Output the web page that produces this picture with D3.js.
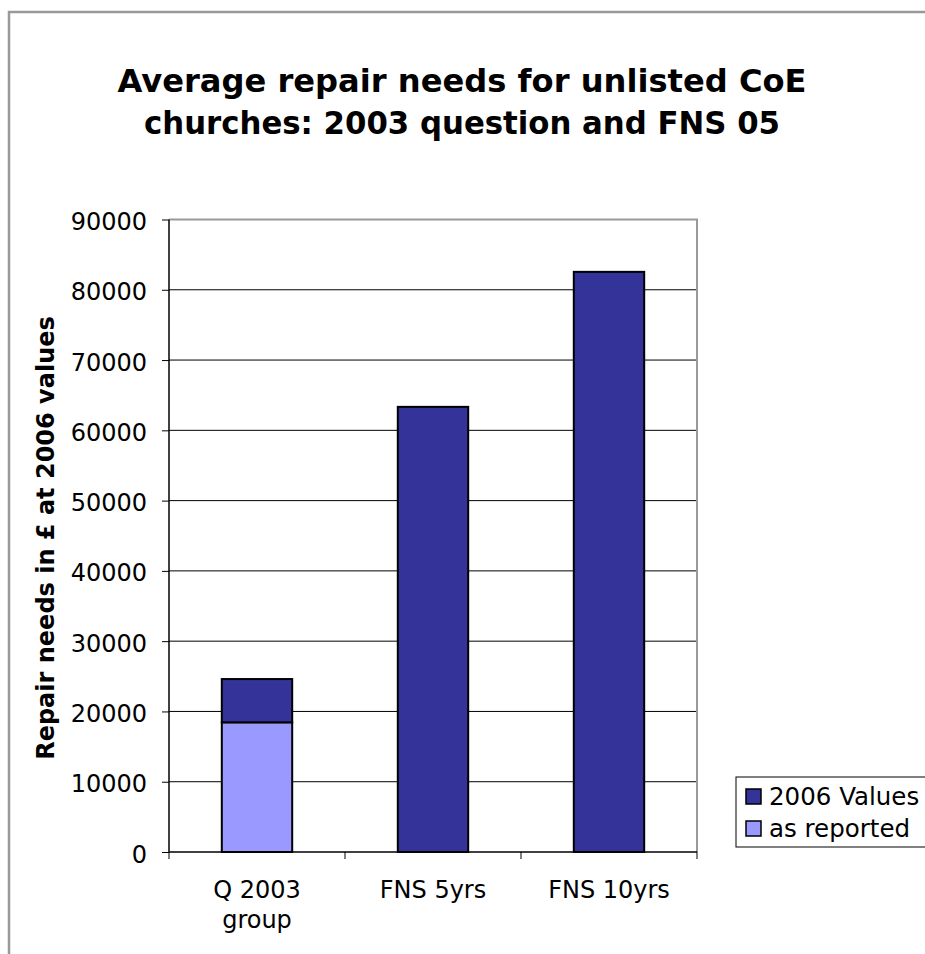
<!DOCTYPE html>
<html><head><meta charset="utf-8">
<script src="https://cdn.jsdelivr.net/npm/d3@7"></script>
<style>body{margin:0;background:#fff}svg{display:block}</style>
</head><body>
<script>
const categories = [["Q 2003","group"],["FNS 5yrs"],["FNS 10yrs"]];
const catKeys = ["Q 2003 group","FNS 5yrs","FNS 10yrs"];
const seriesNames = ["2006 Values","as reported"];
const asReported = [18450, 0, 0];
const values2006 = [24610, 63340, 82550];
const yTicks = [0,10000,20000,30000,40000,50000,60000,70000,80000,90000];
const colors = {"2006 Values":"#333399","as reported":"#9999FF"};

(function(){
const W=925,H=954;
const svg=d3.select("body").append("svg").attr("width",W).attr("height",H);
const font="DejaVu Sans, Verdana, sans-serif";

// outer border
svg.append("rect").attr("x",9).attr("y",12).attr("width",W+20).attr("height",H+20)
  .attr("fill","none").attr("stroke","#999").attr("stroke-width",2.5);

// title
const titleLines=[["Average repair needs for unlisted CoE",92,689],["churches: 2003 question and FNS 05",134,636]];
titleLines.forEach(([t,yy,len])=>{
  svg.append("text").attr("x",462).attr("y",yy).attr("text-anchor","middle")
    .attr("font-family",font).attr("font-weight","bold").attr("font-size",32)
    .attr("textLength",len).attr("lengthAdjust","spacingAndGlyphs").text(t);
});

const pL=169,pR=697,pT=219.5,pB=852;
const x=d3.scaleBand().domain(catKeys).range([pL,pR]).paddingInner(0.6).paddingOuter(0.3);
const y=d3.scaleLinear().domain([0,90000]).range([pB,pT]);

// gridlines
svg.append("g").selectAll("line").data(yTicks.filter(d=>d>0)).join("line")
  .attr("x1",pL).attr("x2",pR).attr("y1",d=>y(d)).attr("y2",d=>y(d))
  .attr("stroke","#000").attr("stroke-width",1);
// plot border top/right
svg.append("path").attr("d",`M${pL},${pT}H${pR}V${pB}`).attr("fill","none")
  .attr("stroke","#999").attr("stroke-width",2);

const stackData=catKeys.map((k,i)=>({cat:k,rep:asReported[i],tot:values2006[i]}));
const g=svg.append("g");
stackData.forEach(d=>{
  if(d.rep>0){
    g.append("rect").attr("x",x(d.cat)).attr("width",x.bandwidth())
      .attr("y",y(d.rep)).attr("height",y(0)-y(d.rep))
      .attr("fill",colors["as reported"]).attr("stroke","#000").attr("stroke-width",2);
  }
  g.append("rect").attr("x",x(d.cat)).attr("width",x.bandwidth())
    .attr("y",y(d.tot)).attr("height",y(d.rep)-y(d.tot))
    .attr("fill",colors["2006 Values"]).attr("stroke","#000").attr("stroke-width",2);
});

// y axis
const ya=svg.append("g").attr("transform",`translate(${pL},0)`)
  .call(d3.axisLeft(y).tickValues(yTicks).tickSize(7).tickPadding(15).tickFormat(d3.format("d")));
ya.select(".domain").attr("stroke","#000").attr("stroke-width",1.5).attr("d",`M0,${pT}V${pB}`);
ya.selectAll(".tick line").attr("stroke","#000");
ya.selectAll("text").attr("font-family",font).attr("font-size",24).attr("fill","#000").attr("dy","0.42em");

// x axis
const xa=svg.append("g").attr("transform",`translate(0,${pB})`);
xa.append("line").attr("x1",pL).attr("x2",pR).attr("stroke","#000").attr("stroke-width",1.5);
const bounds=[0,1,2,3].map(i=>pL+i*(pR-pL)/3);
xa.selectAll(".tk").data(bounds).join("line").attr("x1",d=>d).attr("x2",d=>d)
  .attr("y1",0).attr("y2",7).attr("stroke","#000");
categories.forEach((lines,i)=>{
  const cx=x(catKeys[i])+x.bandwidth()/2;
  const t=xa.append("text").attr("text-anchor","middle").attr("font-family",font)
    .attr("font-size",24).attr("fill","#000");
  lines.forEach((l,j)=>t.append("tspan").attr("x",cx).attr("y",46+j*30).text(l));
});

// y label
svg.append("text").attr("transform","translate(54,538) rotate(-90)").attr("text-anchor","middle")
  .attr("font-family",font).attr("font-weight","bold").attr("font-size",24)
  .text("Repair needs in £ at 2006 values");

// legend
const lg=svg.append("g");
lg.append("rect").attr("x",736).attr("y",777).attr("width",220).attr("height",70)
  .attr("fill","#fff").attr("stroke","#000").attr("stroke-width",1);
seriesNames.forEach((s,i)=>{
  const by=805+i*32;
  lg.append("rect").attr("x",746).attr("y",by-16).attr("width",15).attr("height",15)
    .attr("fill",colors[s]).attr("stroke","#000").attr("stroke-width",1.5);
  lg.append("text").attr("x",769).attr("y",by).attr("font-family",font).attr("font-size",24.5)
    .attr("fill","#000").text(s);
});
})();
</script>
</body></html>
